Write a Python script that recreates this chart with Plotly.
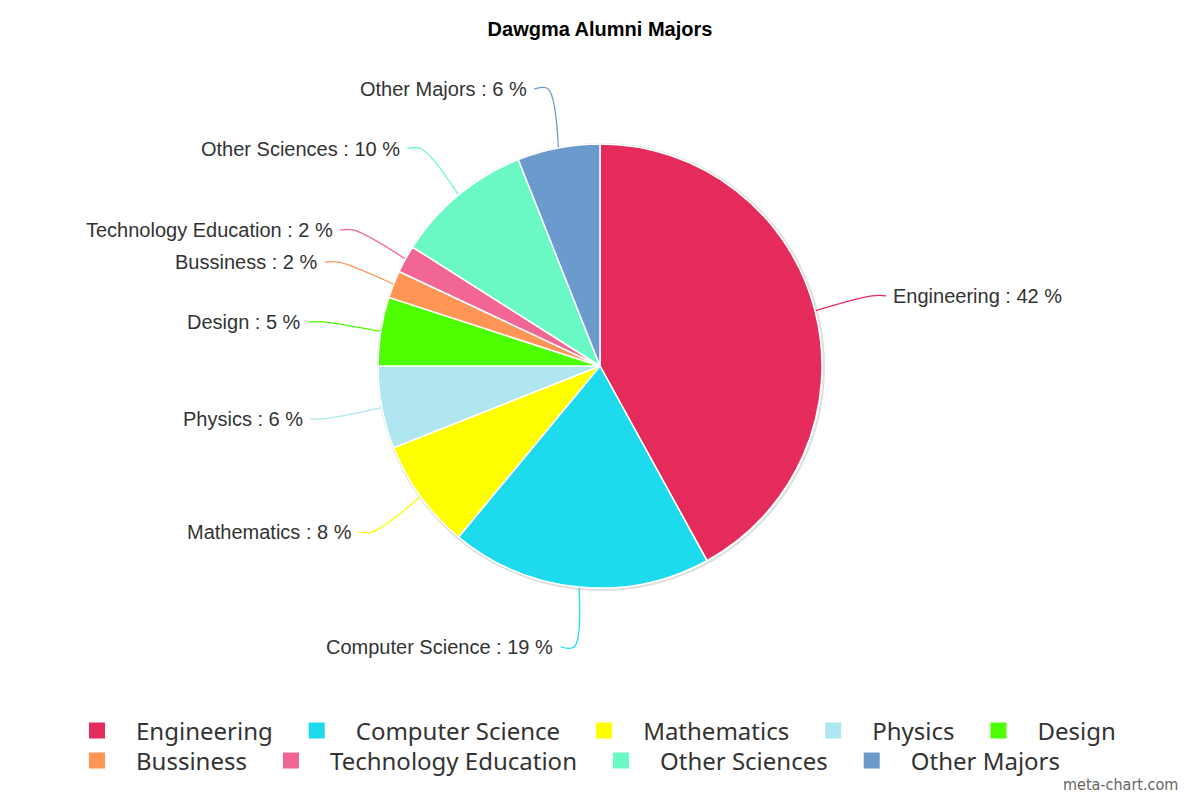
import math
import plotly.graph_objects as go

# Data
majors = ["Engineering", "Computer Science", "Mathematics", "Physics", "Design",
          "Bussiness", "Technology Education", "Other Sciences", "Other Majors"]
percents = [42, 19, 8, 6, 5, 2, 2, 10, 6]
colors = ["#E52B5C", "#1DDBEC", "#FFFF00", "#B0E6F0", "#4EFF00",
          "#FF9655", "#F26696", "#6AF9C4", "#6B9BCC"]
legend_row = [1, 1, 1, 1, 1, 2, 2, 2, 2]

# Page geometry (pixels); the page body adds an 8px offset
W, H = 1200, 800
OFF = 8
CX, CY, R = 600 - OFF, 366 - OFF, 222
LABEL_DIST = 60

fig = go.Figure()

fig.add_trace(go.Pie(
    labels=majors,
    values=percents,
    sort=False,
    direction="clockwise",
    rotation=0,
    textinfo="none",
    showlegend=False,
    marker=dict(colors=colors, line=dict(color="white", width=1.5)),
    domain=dict(x=[(CX - R) / W, (CX + R) / W],
                y=[(H - CY - R) / H, (H - CY + R) / H]),
    hovertemplate="%{label}: %{value} %<extra></extra>",
))

# data labels with connectors, Highcharts style
annotations = []
total = sum(percents)
cum = 0
for name, val, col in zip(majors, percents, colors):
    mid = (cum + val / 2) / total
    cum += val
    theta = 2 * math.pi * mid
    side = 1 if math.sin(theta) > 0 else -1
    rd = R + LABEL_DIST
    ly = CY - rd * math.cos(theta)
    dy = ly - CY
    xc = CX + side * math.sqrt(max(rd ** 2 - dy ** 2, 0))
    xt = xc + side * 18
    ex = CX + R * math.sin(theta)
    ey = CY - R * math.cos(theta)
    sx = xt - side * 5
    fig.add_trace(go.Scatter(
        x=[sx, sx - side * 14, ex],
        y=[ly, ly, ey],
        mode="lines",
        line=dict(color=col, width=1.3, shape="spline"),
        hoverinfo="skip",
        showlegend=False,
    ))
    annotations.append(dict(
        x=xt, y=ly, xref="x", yref="y",
        text=f"{name} : {val} %",
        showarrow=False,
        xanchor="left" if side > 0 else "right",
        yanchor="middle",
        font=dict(family="Liberation Sans, Arial", size=20, color="#333333"),
    ))

# legend entries (two rows like the original)
for name, col, row in zip(majors, colors, legend_row):
    fig.add_trace(go.Scatter(
        x=[None], y=[None], mode="markers", name=name,
        marker=dict(symbol="square", size=16, color=col),
        legend="legend" if row == 1 else "legend2",
    ))

annotations.append(dict(
    x=1180 - OFF, y=784 - OFF, xref="x", yref="y",
    text="meta-chart.com", showarrow=False,
    xanchor="right", yanchor="middle",
    font=dict(family="DejaVu Sans Condensed, Noto Sans", size=16, color="#666666"),
))

legend_font = dict(family="Noto Sans", size=24, color="#333333")

fig.update_layout(
    width=W, height=H,
    margin=dict(l=0, r=0, t=0, b=0, autoexpand=False),
    paper_bgcolor="white",
    plot_bgcolor="white",
    title=dict(text="<b>Dawgma Alumni Majors</b>", x=(600 - OFF) / W, xanchor="center",
               y=1 - (29 - OFF) / H, yref="container", yanchor="middle",
               font=dict(family="Liberation Sans, Arial", size=20, color="black")),
    xaxis=dict(range=[0, W], visible=False, fixedrange=True),
    yaxis=dict(range=[H, 0], visible=False, fixedrange=True),
    legend=dict(orientation="h", x=(58 - OFF) / W, xanchor="left",
                y=(H - 731 + OFF) / H, yanchor="middle",
                font=legend_font, itemwidth=68, bgcolor="rgba(0,0,0,0)"),
    legend2=dict(orientation="h", x=(58 - OFF) / W, xanchor="left",
                 y=(H - 761 + OFF) / H, yanchor="middle",
                 font=legend_font, itemwidth=68, bgcolor="rgba(0,0,0,0)"),
    annotations=annotations,
    shapes=[dict(type="circle", xref="x", yref="y",
                 x0=CX - R, x1=CX + R + 2, y0=CY - R, y1=CY + R + 2,
                 line=dict(color="rgba(0,0,0,0.13)", width=2), layer="below")],
)

fig.write_html("out.html")
